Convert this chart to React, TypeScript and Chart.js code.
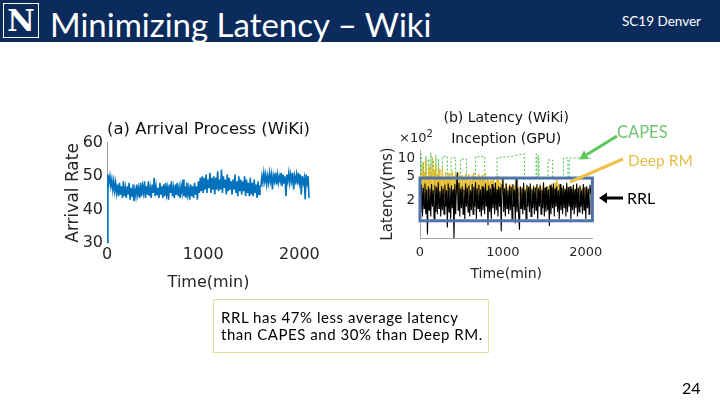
import React, { useEffect, useRef } from "react";
import { Chart, registerables } from "chart.js";
Chart.register(...registerables);

// ---------- (a) Arrival process (WiKi) ----------
const ARRIVAL_STEP_MIN = 10;
const ARRIVAL_RATE = [
  30, 50.5, 48, 50, 47, 49, 46, 48.5, 45.5, 48,
  45, 47.5, 44, 48, 44.5, 47, 43.5, 48.5, 44, 46.5,
  43.5, 47, 44.5, 48, 43, 46.5, 44, 47.5, 42.5, 46,
  44, 47.5, 44.5, 46.5, 43.5, 48, 44, 47, 45, 48.5,
  43.5, 47, 44.5, 48.5, 44, 46.5, 43.5, 47.5, 45, 49.5,
  44, 47, 44.5, 46.5, 43.5, 48, 44.5, 47, 43.5, 47.5,
  44, 48, 44.5, 46.5, 43, 47.5, 45, 48.5, 44, 46.5,
  43.5, 47.5, 44.5, 48, 44, 46.5, 43.5, 47, 45, 49,
  44, 47, 43.5, 48, 44.5, 46.5, 43, 47.5, 44, 47,
  43.5, 48, 44.5, 47, 43, 48.5, 45, 49.5, 45.5, 50,
  45, 49.5, 46, 50.5, 45, 49, 46.5, 51, 45, 49.5,
  46, 50, 44.5, 49.5, 46, 51.5, 45.5, 49, 46, 52,
  45, 50, 46.5, 49, 44.5, 50.5, 45.5, 49.5, 46, 48.5,
  44.5, 49, 46, 50.5, 45, 48.5, 44, 50, 45.5, 49,
  44.5, 48.5, 45.5, 50, 44, 49, 45, 48, 44, 49.5,
  44.5, 48, 44, 49, 45, 47.5, 43.5, 48.5, 44.5, 47,
  47, 50, 48, 51, 48.5, 50.5, 47.5, 50, 48, 51,
  48.5, 50.5, 46, 50, 48.5, 51, 47.5, 50.5, 48, 50,
  48.5, 51, 47, 50.5, 48, 50, 44, 50.5, 48.5, 51,
  48, 50.5, 48.5, 51, 46, 50, 48.5, 50.5, 47.5, 51,
  48, 50.5, 44.5, 50, 48, 49.5, 43, 50.5, 48, 50, 43.5,
];
const ARRIVAL_Y_TICKS = [30, 40, 50, 60];
const TIME_TICKS = [0, 1000, 2000];

// ---------- (b) Latency (WiKi), Inception (GPU), values in ×10^2 ms ----------
const LAT_STEP_MIN = 10;
const RRL_LATENCY = [
  2.9, 1.3, 3.7, 1.1, 3.3, 1.5, 3.9, 1.2, 3.1, 0.55,
  3.5, 1.4, 3.2, 1.1, 3.8, 1.6, 3.0, 1.0, 3.6, 1.3,
  3.4, 1.2, 4.1, 1.5, 2.9, 1.1, 3.5, 1.4, 3.2, 1.2,
  3.7, 1.6, 3.0, 0.72, 3.9, 1.3, 3.3, 1.0, 3.6, 1.5,
  3.1, 0.46, 3.8, 1.2, 3.4, 6.0, 1.4, 4.0, 1.1, 3.2,
  1.5, 3.5, 1.2, 3.1, 1.0, 3.9, 1.6, 3.3, 1.3, 3.6,
  1.1, 3.0, 1.4, 3.8, 1.2, 3.4, 1.6, 4.1, 1.0, 3.2,
  1.5, 3.7, 1.3, 3.1, 1.1, 3.5, 1.4, 3.3, 1.2, 3.9,
  1.6, 3.0, 0.78, 3.6, 1.3, 3.2, 1.0, 3.8, 1.5, 3.4,
  1.2, 4.0, 1.4, 3.1, 1.1, 3.5, 1.6, 3.3, 0.62, 3.7,
  5.0, 1.3, 3.2, 1.1, 3.9, 1.5, 3.0, 1.2, 3.6, 1.4,
  3.4, 1.0, 3.8, 1.6, 3.1, 0.85, 4.8, 1.3, 3.3, 1.1,
  0.66, 3.5, 1.5, 3.2, 1.2, 4.0, 1.4, 3.0, 1.0, 3.7,
  1.6, 3.4, 1.3, 3.9, 1.1, 3.1, 1.5, 3.5, 1.2, 3.3,
  1.4, 3.8, 1.0, 3.2, 1.6, 3.6, 1.2, 3.0, 1.5, 4.1,
  1.1, 3.3, 1.3, 3.5, 1.4, 3.1, 0.76, 3.7, 1.2, 3.4,
  1.5, 3.9, 1.1, 3.2, 1.6, 3.5, 1.3, 3.0, 1.0, 3.8,
  1.4, 3.3, 1.2, 3.6, 1.5, 3.1, 1.1, 4.0, 1.3, 3.4,
  1.6, 3.5, 1.0, 3.2, 1.4, 3.7, 1.2, 3.1, 1.5, 3.9,
  1.1, 3.3, 1.3, 3.6, 1.6, 3.0, 1.2, 3.8, 1.4, 3.4,
  1.0, 3.5, 1.5, 3.2, 1.2, 3.7, 2.7,
];
const DEEPRM_LATENCY = [
  2.3, 5.5, 2.5, 8.5, 2.8, 6.0, 2.4, 9.5, 2.6, 5.2,
  2.3, 7.5, 2.7, 5.8, 2.5, 10.5, 2.8, 6.5, 2.4, 8.0,
  2.6, 5.5, 2.3, 6.8, 2.7, 5.2, 2.5, 7.2, 2.8, 5.0,
  2.4, 6.0, 2.6, 5.3, 2.3, 5.8, 2.7, 4.9, 2.5, 6.2,
  2.8, 5.1, 2.4, 5.6, 2.6, 4.8, 2.3, 5.9, 2.7, 5.2,
  2.5, 5.4, 2.8, 4.9, 2.4, 5.7, 2.6, 5.0, 2.3, 5.5,
  2.7, 4.8, 2.5, 5.3, 2.8, 5.9, 2.4, 5.1, 2.6, 4.9,
  2.3, 5.6, 2.7, 5.0, 2.5, 5.4, 2.8, 4.8, 2.4, 5.8,
  2.6, 4.6, 2.3, 4.2, 2.7, 5.0, 2.5, 4.4, 2.8, 4.7,
  2.4, 4.1, 2.6, 5.2, 2.3, 4.5, 2.7, 4.0, 2.5, 4.8,
  3.6, 2.4, 3.3, 2.6, 3.9, 2.3, 3.4, 2.7, 3.8, 2.5,
  3.7, 2.5, 3.5, 2.8, 3.6, 2.4, 4.2, 2.6, 3.5, 2.3,
  2.7, 3.3, 2.5, 3.4, 2.8, 3.6, 2.4, 3.2, 2.6, 3.5,
  2.3, 3.5, 2.7, 3.6, 2.5, 3.3, 2.8, 3.7, 2.4, 3.4,
  2.6, 3.5, 2.3, 3.4, 2.7, 3.8, 2.5, 3.3, 2.8, 3.9,
  2.4, 3.4, 2.6, 3.3, 2.3, 3.5, 2.7, 3.6, 2.5, 3.9,
  2.8, 3.6, 2.4, 4.0, 2.6, 4.6, 2.3, 3.9, 2.7, 3.6,
  2.5, 3.2, 2.8, 3.4, 2.4, 3.3, 2.6, 3.7, 2.3, 3.2,
  2.7, 3.3, 2.5, 3.1, 2.8, 3.5, 2.4, 3.2, 2.6, 3.6,
  2.3, 3.1, 2.7, 3.4, 2.5, 3.2, 2.8, 3.5, 2.4, 3.3,
  2.6, 3.3, 2.3, 3.1, 2.7, 3.4, 2.5,
];
const CAPES_TIME = [
  0, 10, 10, 15, 15, 40, 40, 45, 45, 70, 70, 75, 75, 100, 100, 105, 105,
  130, 130, 135, 135, 160, 160, 165, 165, 190, 190, 195, 195, 220, 220, 225, 225,
  270, 270, 330, 330, 375, 375, 430, 430, 490, 490, 560, 560, 670, 670, 780, 780,
  930, 930, 1100, 1200, 1260, 1260, 1400, 1400, 1410, 1410, 1425, 1425, 1435, 1435,
  1545, 1545, 1600, 1600, 1730, 1730, 1785, 1785, 1800, 1800, 2060,
];
const CAPES_LATENCY = [
  4.8, 4.8, 12, 12, 4.8, 4.8, 9, 9, 4.8, 4.8, 11, 11, 4.8, 4.8, 10, 10, 4.8,
  4.8, 12.5, 12.5, 4.8, 4.8, 9.5, 9.5, 4.8, 4.8, 11.5, 11.5, 4.8, 4.8, 10, 10, 4.8,
  4.8, 11, 11, 4.8, 4.8, 10.5, 10.5, 4.8, 4.8, 10, 10, 4.8, 4.8, 11, 11, 4.8,
  4.8, 10.5, 11, 11.8, 12, 4.8, 4.8, 12, 12, 4.8, 4.8, 11.5, 11.5, 4.8,
  4.8, 9.6, 9.6, 4.8, 4.8, 10.4, 10.4, 4.8, 4.8, 10.4, 10.4,
];
const LAT_Y_TICKS = [2, 5, 10];
const RRL_BOX_TIME = [0, 2080];
const RRL_BOX_LATENCY = [0.93, 4.8];

const CHART_FONT = "'DejaVu Sans', 'Liberation Sans', sans-serif";
const SLIDE_FONT = "Lato, 'Open Sans', sans-serif";
const TICK_COLOR = "#262626";

function ArrivalChart() {
  const ref = useRef<HTMLCanvasElement>(null);
  useEffect(() => {
    const pts = ARRIVAL_RATE.map((y, i) => ({ x: i * ARRIVAL_STEP_MIN, y }));
    const chart = new Chart(ref.current!, {
      type: "line",
      data: {
        datasets: [
          { data: pts, borderColor: "#0072BD", borderWidth: 1.6, pointRadius: 0, tension: 0 },
        ],
      },
      options: {
        animation: false,
        responsive: false,
        maintainAspectRatio: false,
        layout: { padding: { left: 0, right: 15, top: 0, bottom: 0 } },
        plugins: {
          legend: { display: false },
          tooltip: { enabled: false },
          title: {
            display: true,
            text: "(a) Arrival Process (WiKi)",
            fullSize: false,
            color: "#111",
            font: { family: CHART_FONT, size: 16.5, weight: "normal", lineHeight: 1.2 },
            padding: { top: 10, bottom: 3 },
          },
        },
        scales: {
          x: {
            type: "linear",
            min: 0,
            max: 2110,
            afterBuildTicks: (s: any) => {
              s.ticks = TIME_TICKS.map((v) => ({ value: v }));
            },
            afterFit: (s: any) => {
              s.height = 52;
            },
            grid: { display: false, drawTicks: false },
            border: { display: false },
            ticks: {
              autoSkip: false,
              maxRotation: 0,
              padding: 2,
              color: TICK_COLOR,
              font: { family: CHART_FONT, size: 16 },
              callback: (v: any) => String(v),
            },
            title: {
              display: true,
              text: "Time(min)",
              color: TICK_COLOR,
              font: { family: CHART_FONT, size: 16 },
              padding: { top: 0, bottom: 3 },
            },
          },
          y: {
            type: "linear",
            min: 30,
            max: 60,
            afterBuildTicks: (s: any) => {
              s.ticks = ARRIVAL_Y_TICKS.map((v) => ({ value: v }));
            },
            afterFit: (s: any) => {
              s.width = 57;
            },
            grid: { display: false, drawTicks: false },
            border: { display: true, color: "#9a9a9a", width: 1 },
            ticks: {
              padding: 4,
              color: TICK_COLOR,
              font: { family: CHART_FONT, size: 16 },
              callback: (v: any) => String(v),
            },
            title: {
              display: true,
              text: "Arrival Rate",
              color: TICK_COLOR,
              font: { family: CHART_FONT, size: 17 },
              padding: { top: 13, bottom: 0 },
            },
          },
        },
      },
    });
    return () => chart.destroy();
  }, []);
  return (
    <canvas
      ref={ref}
      width={275}
      height={185}
      style={{ position: "absolute", left: 50, top: 110, width: 275, height: 185 }}
    />
  );
}

const rrlBoxPlugin = {
  id: "rrlBox",
  afterDatasetsDraw(chart: any) {
    const { ctx, scales } = chart;
    const x0 = scales.x.getPixelForValue(RRL_BOX_TIME[0]);
    const x1 = scales.x.getPixelForValue(RRL_BOX_TIME[1]);
    const y0 = scales.y.getPixelForValue(RRL_BOX_LATENCY[1]);
    const y1 = scales.y.getPixelForValue(RRL_BOX_LATENCY[0]);
    ctx.save();
    ctx.strokeStyle = "#5074a8";
    ctx.lineWidth = 3;
    ctx.strokeRect(x0, y0, x1 - x0, y1 - y0);
    ctx.restore();
  },
};

function LatencyChart() {
  const ref = useRef<HTMLCanvasElement>(null);
  useEffect(() => {
    const rrl = RRL_LATENCY.map((y, i) => ({ x: i * LAT_STEP_MIN, y }));
    const deep = DEEPRM_LATENCY.map((y, i) => ({ x: i * LAT_STEP_MIN, y }));
    const capes = CAPES_TIME.map((x, i) => ({ x, y: CAPES_LATENCY[i] }));
    const chart = new Chart(ref.current!, {
      type: "line",
      data: {
        datasets: [
          { label: "RRL", data: rrl, borderColor: "#000000", borderWidth: 1.1, pointRadius: 0, tension: 0, order: 0 },
          { label: "DeepRM", data: deep, borderColor: "#e2b824", borderWidth: 1, pointRadius: 0, tension: 0, order: 1 },
          { label: "CAPES", data: capes, borderColor: "#4cbf4c", borderWidth: 1, borderDash: [2, 2], pointRadius: 0, tension: 0, order: 2 },
        ],
      },
      plugins: [rrlBoxPlugin],
      options: {
        animation: false,
        responsive: false,
        maintainAspectRatio: false,
        layout: { padding: { left: 0, right: 12, top: 0, bottom: 0 } },
        plugins: {
          legend: { display: false },
          tooltip: { enabled: false },
          title: {
            display: true,
            text: ["(b) Latency (WiKi)", "Inception (GPU)"],
            fullSize: false,
            color: "#111",
            font: { family: CHART_FONT, size: 14, weight: "normal", lineHeight: 1.5 },
            padding: { top: 8, bottom: 0 },
          },
        },
        scales: {
          x: {
            type: "linear",
            min: 0,
            max: 2080,
            afterBuildTicks: (s: any) => {
              s.ticks = TIME_TICKS.map((v) => ({ value: v }));
            },
            afterFit: (s: any) => {
              s.height = 52;
            },
            grid: { display: false, drawTicks: false },
            border: { display: true, color: "#a8a8a8", width: 1 },
            ticks: {
              autoSkip: false,
              maxRotation: 0,
              padding: 7,
              color: TICK_COLOR,
              font: { family: CHART_FONT, size: 13 },
              callback: (v: any) => String(v),
            },
            title: {
              display: true,
              text: "Time(min)",
              color: TICK_COLOR,
              font: { family: CHART_FONT, size: 14 },
              padding: { top: 0, bottom: 7 },
            },
          },
          y: {
            type: "logarithmic",
            min: 0.48,
            max: 14.1,
            afterBuildTicks: (s: any) => {
              s.ticks = LAT_Y_TICKS.map((v) => ({ value: v }));
            },
            afterFit: (s: any) => {
              s.width = 50;
            },
            grid: { display: false, drawTicks: false },
            border: { display: true, color: "#a8a8a8", width: 1 },
            ticks: {
              padding: 5,
              color: TICK_COLOR,
              font: { family: CHART_FONT, size: 13.5 },
              callback: (v: any) => String(v),
            },
            title: {
              display: true,
              text: "Latency(ms)",
              color: TICK_COLOR,
              font: { family: CHART_FONT, size: 15 },
              padding: { top: 9, bottom: 0 },
            },
          },
        },
      },
    });
    return () => chart.destroy();
  }, []);
  return (
    <canvas
      ref={ref}
      width={240}
      height={190}
      style={{ position: "absolute", left: 370, top: 100, width: 240, height: 190 }}
    />
  );
}

export default function App() {
  return (
    <div
      style={{
        position: "fixed",
        left: 0,
        top: 0,
        width: 720,
        height: 405,
        overflow: "hidden",
        background: "#ffffff",
        fontFamily: SLIDE_FONT,
      }}
    >
      {/* header */}
      <div style={{ position: "absolute", left: 0, top: 0, width: 720, height: 42, background: "#0b2b5c" }} />
      <div
        style={{
          position: "absolute",
          left: 3,
          top: 3,
          width: 36,
          height: 35,
          border: "1px solid #ffffff",
          boxSizing: "border-box",
          background: "#0b2b5c",
          color: "#ffffff",
          fontFamily: "'DejaVu Serif', serif",
          fontWeight: "bold",
          fontSize: 30,
          lineHeight: "33px",
          textAlign: "center",
        }}
      >
        N
      </div>
      <div
        style={{
          position: "absolute",
          left: 50,
          top: 3,
          color: "#ffffff",
          fontSize: 33,
          lineHeight: "42px",
          whiteSpace: "nowrap",
        }}
      >
        Minimizing Latency – Wiki
      </div>
      <div
        style={{
          position: "absolute",
          left: 622,
          top: 12,
          color: "#ffffff",
          fontSize: 13.5,
          lineHeight: "18px",
          whiteSpace: "nowrap",
        }}
      >
        SC19 Denver
      </div>

      <ArrivalChart />
      <LatencyChart />

      {/* ×10^2 exponent label */}
      <div
        style={{
          position: "absolute",
          left: 399,
          top: 126,
          fontFamily: CHART_FONT,
          fontSize: 13,
          color: TICK_COLOR,
          whiteSpace: "nowrap",
          lineHeight: "16px",
        }}
      >
        ×10<sup style={{ fontSize: 10, verticalAlign: 5 }}>2</sup>
      </div>

      {/* arrows */}
      <svg width={720} height={405} style={{ position: "absolute", left: 0, top: 0 }}>
        <line x1={617} y1={136} x2={586.6} y2={154.8} stroke="#5cc85c" strokeWidth={3} />
        <polygon points="579,159.5 589.2,159 584,150.5" fill="#5cc85c" />
        <line x1={623} y1={159} x2={570} y2={182} stroke="#ecc24a" strokeWidth={3} />
        <line x1={623} y1={198} x2={606} y2={198} stroke="#000000" strokeWidth={3} />
        <polygon points="599,198 607,192.5 607,203.5" fill="#000000" />
      </svg>

      {/* series labels */}
      <div style={{ position: "absolute", left: 617, top: 122, fontSize: 16.5, color: "#6cc46c", lineHeight: "20px" }}>
        CAPES
      </div>
      <div style={{ position: "absolute", left: 628, top: 150, fontSize: 15.5, color: "#e6bd46", lineHeight: "20px", whiteSpace: "nowrap" }}>
        Deep RM
      </div>
      <div style={{ position: "absolute", left: 627, top: 188, fontSize: 16, color: "#000000", lineHeight: "20px" }}>
        RRL
      </div>

      {/* note box */}
      <div
        style={{
          position: "absolute",
          left: 213,
          top: 299,
          width: 276,
          height: 54,
          boxSizing: "border-box",
          border: "1.5px solid #e6dd9c",
          padding: "9px 0 0 7px",
          fontSize: 15,
          lineHeight: "17px",
          letterSpacing: 0.55,
          color: "#000000",
          whiteSpace: "nowrap",
        }}
      >
        RRL has 47% less average latency
        <br />
        than CAPES and 30% than Deep RM.
      </div>

      {/* page number */}
      <div style={{ position: "absolute", left: 682, top: 378, fontSize: 16, color: "#000000", lineHeight: "20px" }}>
        24
      </div>
    </div>
  );
}
